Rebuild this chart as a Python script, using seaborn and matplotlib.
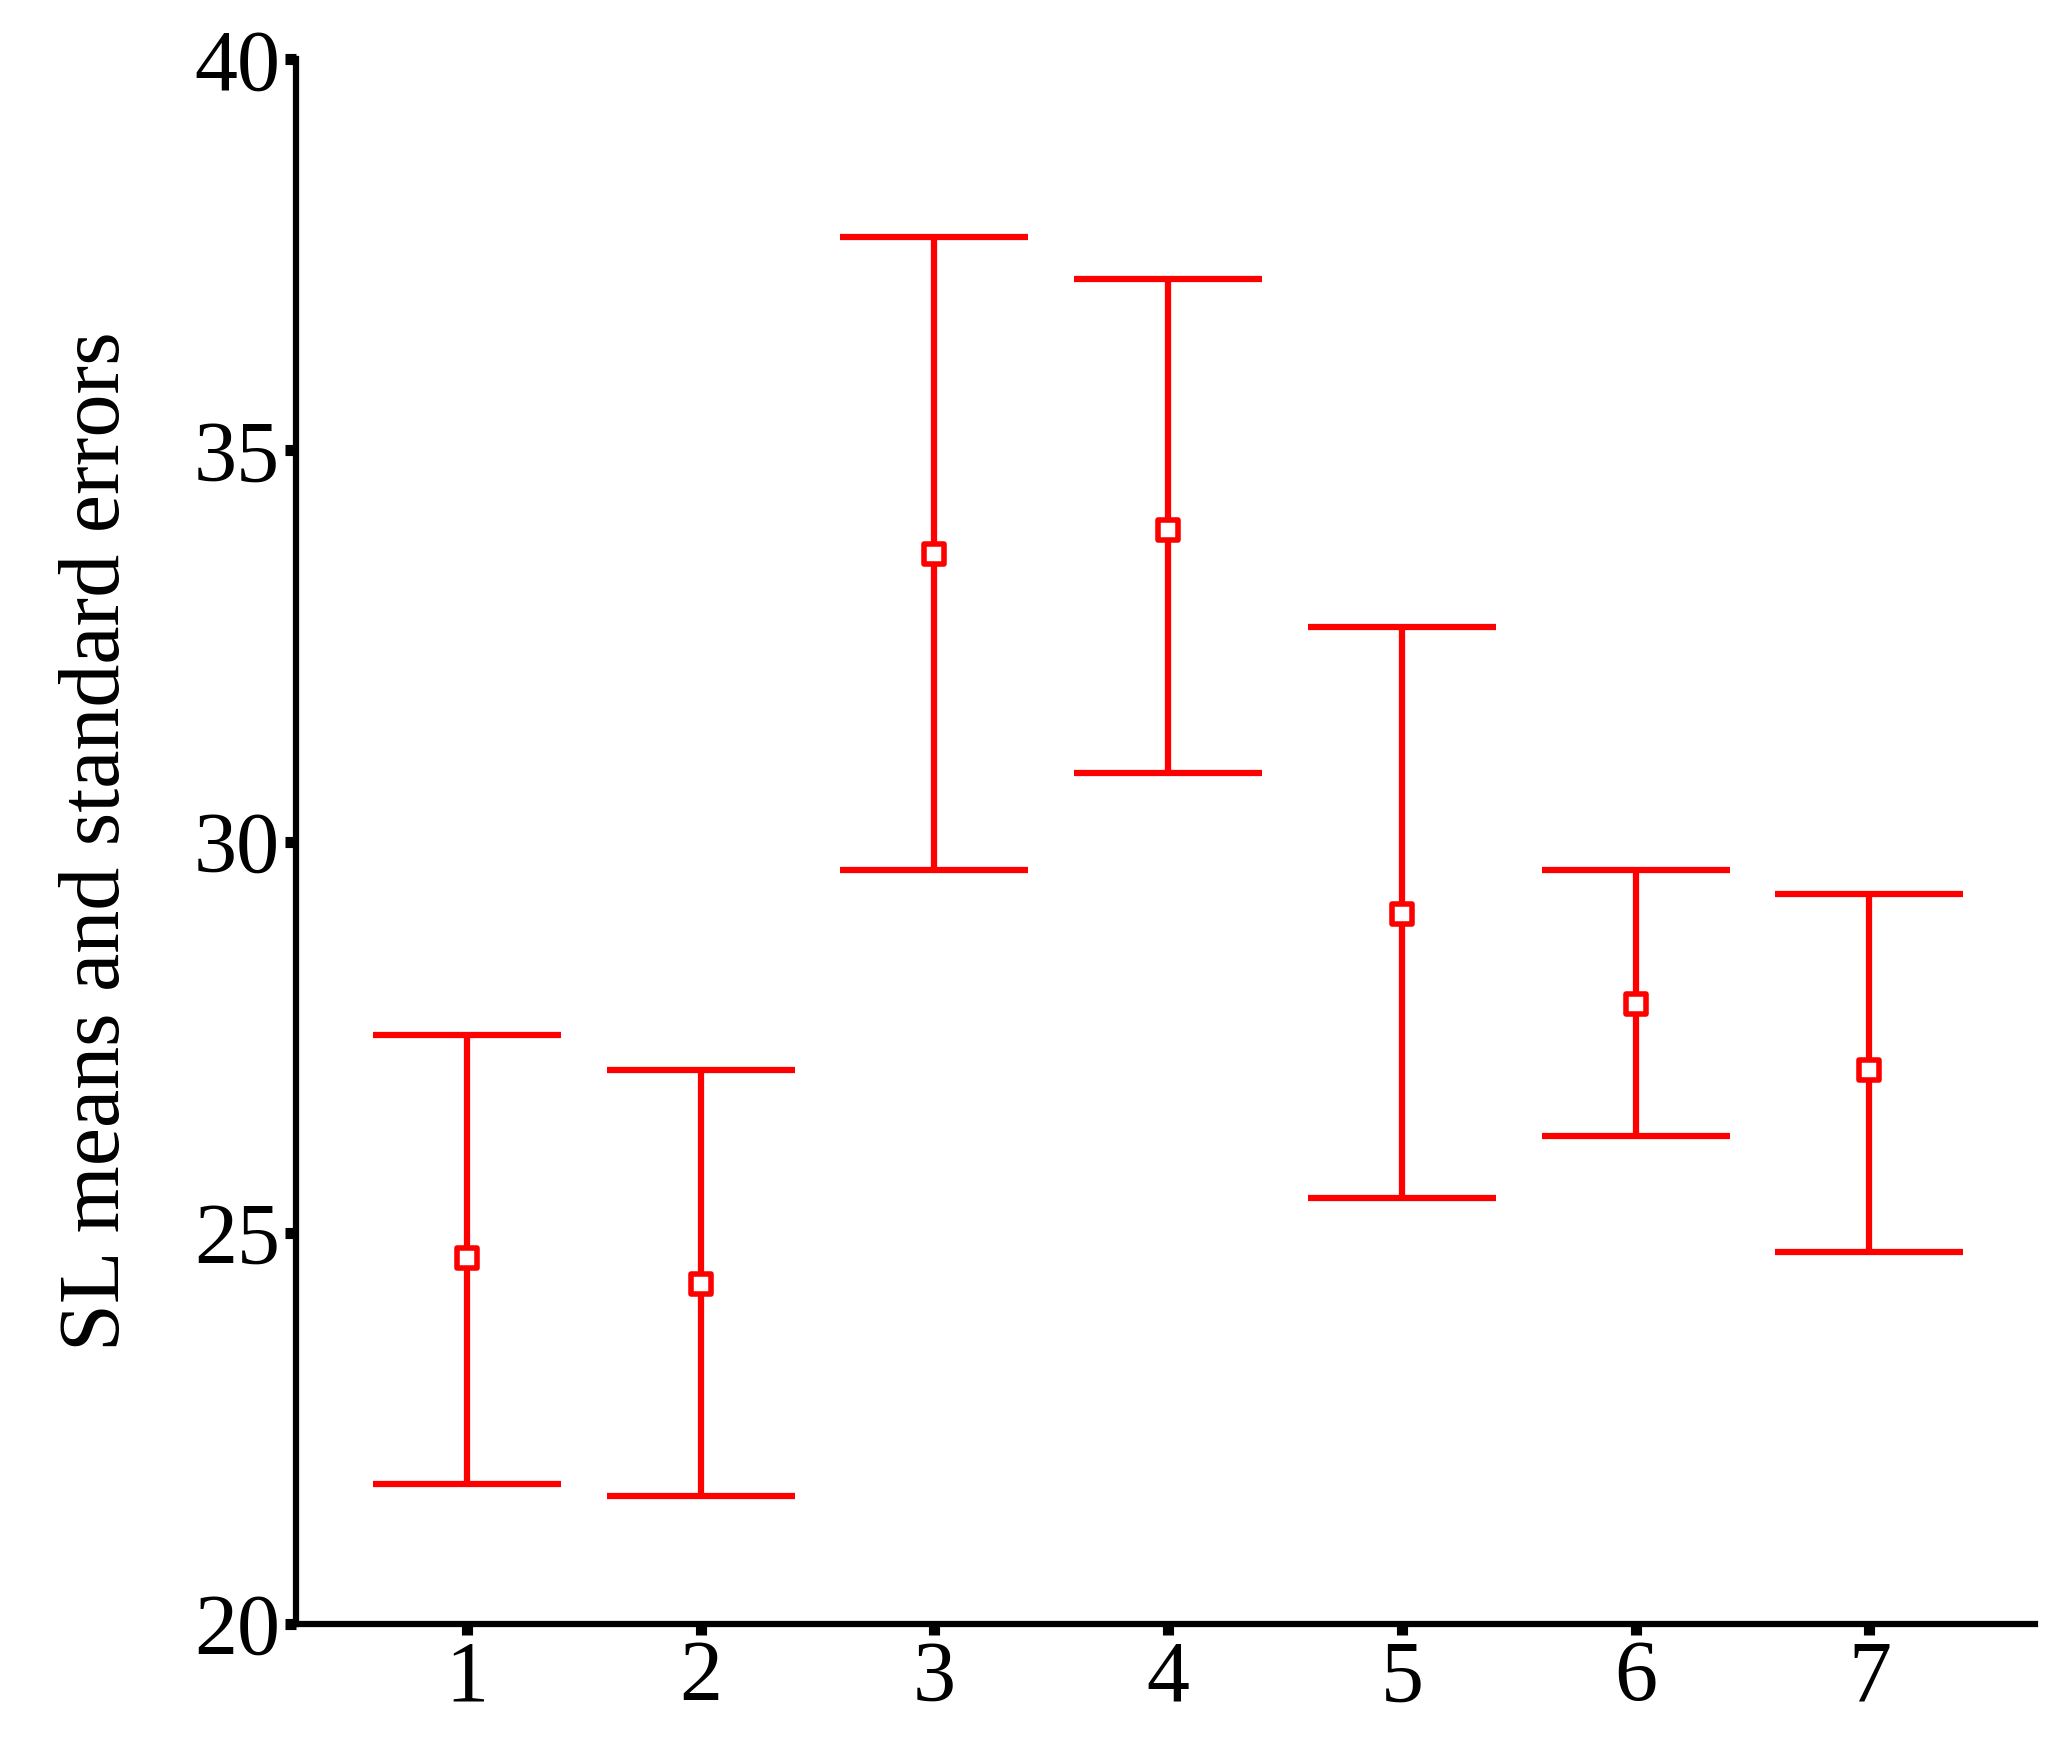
import matplotlib
matplotlib.use("Agg")
import matplotlib.pyplot as plt
import seaborn as sns
import numpy as np
import pandas as pd

groups = [1, 2, 3, 4, 5, 6, 7]
means = [24.67, 24.35, 33.68, 33.98, 29.08, 27.92, 27.08]
upper = [27.53, 27.08, 37.73, 37.19, 32.74, 29.64, 29.33]
lower = [21.79, 21.63, 29.64, 30.88, 25.44, 26.23, 24.75]

sns.set_style("ticks")
plt.rcParams['font.family'] = ['Liberation Serif', 'DejaVu Serif']

fig = plt.figure(figsize=(20.56, 17.46), dpi=100)
ax = fig.add_axes([0.144, 0.07, 0.846, 0.896])
df = pd.DataFrame({"g": groups, "m": means})
yerr = np.array([np.array(means) - np.array(lower), np.array(upper) - np.array(means)])
ax.errorbar(groups, means, yerr=yerr, fmt='none', ecolor='#ff0000', elinewidth=4.5,
            capsize=68, capthick=4.5, zorder=2)
sns.scatterplot(data=df, x="g", y="m", marker='s', s=220, facecolor='white',
                edgecolor='#ff0000', linewidth=4, ax=ax, zorder=3)
ax.set_xlim(0.27, 7.71)
ax.set_ylim(20, 40)
ax.set_xticks(groups)
ax.set_yticks([20, 25, 30, 35, 40])
ax.set_xlabel("")
ax.set_ylabel("SL means and standard errors", fontsize=62, labelpad=40, color='black')
ax.tick_params(axis='both', labelsize=62, width=8, length=8, color='black', labelcolor='black')
for s in ['top', 'right']:
    ax.spines[s].set_visible(False)
for s in ['left', 'bottom']:
    ax.spines[s].set_linewidth(4.5)
    ax.spines[s].set_color('black')
fig.savefig("out.png", dpi=100)
